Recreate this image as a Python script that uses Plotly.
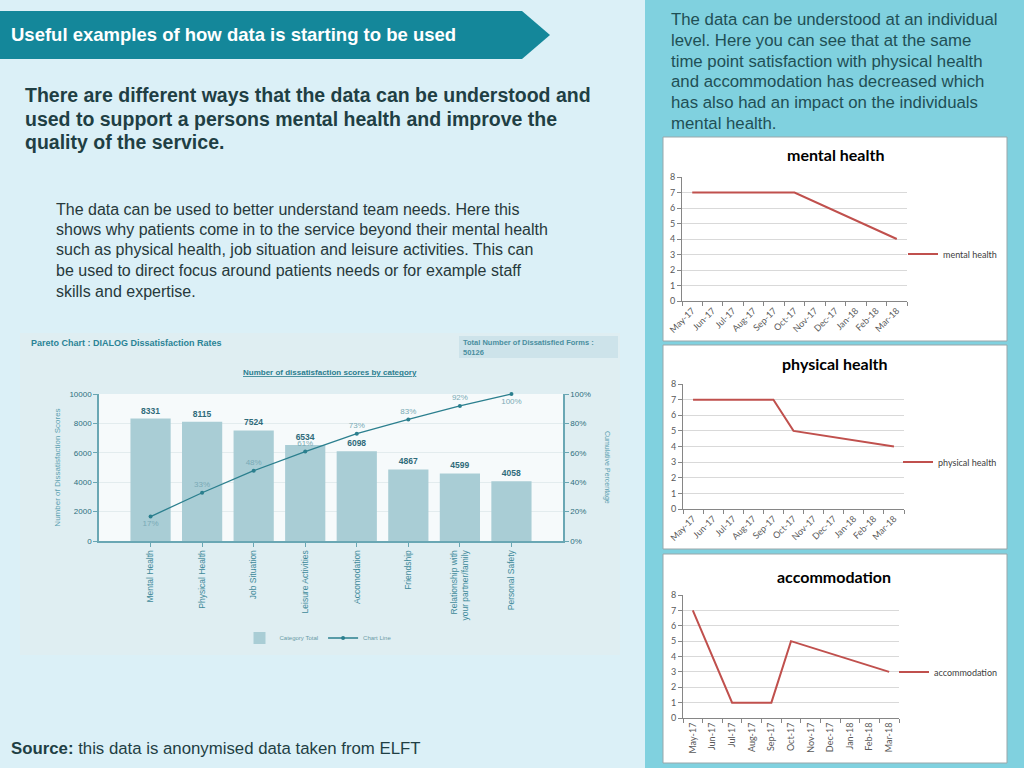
import numpy as np
import plotly.graph_objects as go

W, H = 1024, 768
def X(px): return px / W
def Y(py): return 1 - py / H

# ---------------- data ----------------
pareto_categories = ["Mental Health", "Physical Health", "Job Situation", "Leisure Activities",
                     "Accomodation", "Friendship", "Relationship with<br>your partner/family",
                     "Personal Safety"]
pareto_counts = [8331, 8115, 7524, 6534, 6098, 4867, 4599, 4058]
pareto_total = 50126

months = ["May-17", "Jun-17", "Jul-17", "Aug-17", "Sep-17", "Oct-17",
          "Nov-17", "Dec-17", "Jan-18", "Feb-18", "Mar-18"]
mental_health = [7, 7, 7, 7, 7, 7, None, None, None, None, 4]
physical_health = [7, 7, 7, 7, 7, 5, None, None, None, None, 4]
accommodation = [7, None, 1, 1, 1, 5, None, None, None, None, 3]

cum_pct = np.cumsum(pareto_counts) / pareto_total * 100
pct_labels = [f"{round(p)}%" for p in cum_pct]
pct_pos = ["bottom center"] + ["top center"] * 6 + ["bottom center"]

# ---------------- colours ----------------
LEFT_BG = "#dbf0f7"
RIGHT_BG = "#80d1df"
TEAL = "#14879a"
DARK = "#1f3f44"
RED = "#c0504d"
BAR = "#a9cdd5"
LINE = "#2b7f8e"

fig = go.Figure()

fig.add_trace(go.Bar(
    x=pareto_categories, y=pareto_counts, name="Category Total",
    marker=dict(color=BAR, line=dict(width=0)), width=0.78,
    text=[str(v) for v in pareto_counts], texttemplate="<b>%{text}</b>", textposition="outside",
    textfont=dict(family="Liberation Sans", size=8.5, color="#2f6b7a"),
    cliponaxis=False, xaxis="x", yaxis="y", legend="legend"))
fig.add_trace(go.Scatter(
    x=pareto_categories, y=cum_pct, name="Chart Line",
    mode="lines+markers+text", line=dict(color=LINE, width=1.3),
    marker=dict(size=4, color=LINE),
    text=pct_labels, textposition=pct_pos,
    textfont=dict(family="Liberation Sans", size=8, color="#79aab5"),
    cliponaxis=False, xaxis="x", yaxis="y2", legend="legend"))

small = [("mental health", mental_health, "x2", "y3", "legend2"),
         ("physical health", physical_health, "x3", "y4", "legend3"),
         ("accommodation", accommodation, "x4", "y5", "legend4")]
for name, vals, xa, ya, lg in small:
    fig.add_trace(go.Scatter(
        x=months, y=vals, name=name, mode="lines", connectgaps=True,
        line=dict(color=RED, width=2), xaxis=xa, yaxis=ya, legend=lg))

# ---------------- axes ----------------
ax_font = dict(family="Liberation Sans", size=8, color="#2e6e7e")
fig.update_layout(
    xaxis=dict(domain=[X(99), X(563)], range=[-1, 8], type="category", automargin=False,
               tickangle=-90, tickfont=dict(family="Liberation Sans", size=8.5, color="#3e8a9a"),
               showline=True, linecolor="#6aa7b4", linewidth=1.5,
               ticks="outside", ticklen=4, tickcolor="#6aa7b4",
               showgrid=False, anchor="y"),
    yaxis=dict(domain=[Y(541), Y(394)], range=[0, 10000], dtick=2000, tickformat="d",
               automargin=False,
               tickfont=ax_font, showline=True, linecolor="#6aa7b4", linewidth=1.5,
               ticks="outside", ticklen=4, tickcolor="#6aa7b4",
               gridcolor="#e3ecee", zeroline=False, anchor="x",
               title=dict(text="Number of Dissatisfaction Scores", standoff=8,
                          font=dict(family="Liberation Sans", size=8, color="#5aa0b0"))),
    yaxis2=dict(overlaying="y", side="right", range=[0, 100], dtick=20, ticksuffix="%",
                automargin=False,
                tickfont=ax_font, showline=True, linecolor="#6aa7b4", linewidth=1.5,
                ticks="outside", ticklen=4, tickcolor="#6aa7b4",
                showgrid=False, zeroline=False, anchor="x"),
)

small_domains = [([X(682), X(907)], [Y(301), Y(177)], -45),
                 ([X(683), X(904)], [Y(509), Y(384)], -45),
                 ([X(683), X(899)], [Y(718), Y(595)], -90)]
for i, (dx, dy, ang) in enumerate(small_domains):
    fig.update_layout(**{
        f"xaxis{i+2}": dict(domain=dx, type="category", range=[-0.5, 10.5], anchor=f"y{i+3}",
                            automargin=False, tickangle=ang,
                            tickfont=dict(family="Lato", size=9, color="#595959"),
                            showline=True, linecolor="#868686", linewidth=1,
                            ticks="outside", tickson="boundaries", ticklen=4, tickcolor="#868686",
                            showgrid=False),
        f"yaxis{i+3}": dict(domain=dy, range=[0, 8], dtick=1, anchor=f"x{i+2}", automargin=False,
                            tickfont=dict(family="Lato", size=9, color="#595959"),
                            showline=True, linecolor="#868686", linewidth=1,
                            ticks="outside", ticklen=4, tickcolor="#868686",
                            gridcolor="#d9d9d9", zeroline=False),
    })

# ---------------- legends ----------------
small_leg = dict(xanchor="left", yanchor="middle", font=dict(family="Lato", size=9, color="#404040"),
                 bgcolor="rgba(0,0,0,0)", itemwidth=30)
fig.update_layout(
    legend=dict(orientation="h", x=X(318), xanchor="center", y=Y(638), yanchor="middle",
                font=dict(family="Liberation Sans", size=6, color="#6a9aa5"),
                bgcolor="rgba(0,0,0,0)", itemwidth=30),
    legend2=dict(x=X(903), y=Y(254), **small_leg),
    legend3=dict(x=X(898), y=Y(462), **small_leg),
    legend4=dict(x=X(894), y=Y(672), **small_leg),
)

# ---------------- shapes ----------------
shapes = []
def rect(x0, y0, x1, y1, fill, line=None, lw=0):
    return dict(type="rect", xref="paper", yref="paper", x0=X(x0), x1=X(x1), y0=Y(y1), y1=Y(y0),
                fillcolor=fill, line=dict(color=line or fill, width=lw), layer="below")
shapes.append(rect(645, -2, 1026, 770, RIGHT_BG))
shapes.append(rect(663, 137, 1007, 341, "white", "#9aa7aa", 1))
shapes.append(rect(663, 345, 1007, 549, "white", "#9aa7aa", 1))
shapes.append(rect(663, 554, 1007, 763, "white", "#9aa7aa", 1))
shapes.append(rect(20, 333, 620, 655, "#dfeef2"))
shapes.append(rect(459, 336, 618, 358, "#cde3ea"))
shapes.append(rect(99, 394, 563, 541, "#f6fafb"))
pts = [(-5, 11), (522, 11), (550, 35), (522, 59), (-5, 59)]
path = "M " + " L ".join(f"{X(a):.5f},{Y(b):.5f}" for a, b in pts) + " Z"
shapes.append(dict(type="path", xref="paper", yref="paper", path=path,
                   fillcolor=TEAL, line=dict(width=0), layer="below"))

# ---------------- annotations ----------------
ann = []
def text(x, y, t, size, color, family="Liberation Sans", xanchor="left", yanchor="middle", **kw):
    ann.append(dict(x=X(x), y=Y(y), xref="paper", yref="paper", text=t, showarrow=False,
                    xanchor=xanchor, yanchor=yanchor, align="left",
                    font=dict(family=family, size=size, color=color), **kw))

def para(x, y0, dy, lines, size, color, bold=False):
    for k, ln in enumerate(lines):
        text(x, y0 + k * dy, f"<b>{ln}</b>" if bold else ln, size, color)

text(9, 35, "<b>Useful examples of how data is starting to be used</b>", 18.5, "white")
para(23, 95, 23.5, ["There are different ways that the data can be understood and",
                    "used to support a persons mental health and improve the",
                    "quality of the service."], 19.5, DARK, bold=True)
para(54, 209, 20.5, ["The data can be used to better understand team needs. Here this",
                     "shows why patients come in to the service beyond their mental health",
                     "such as physical health, job situation and leisure activities. This can",
                     "be used to direct focus around patients needs or for example staff",
                     "skills and expertise."], 16, "#27393b")
para(669, 20, 20.6, ["The data can be understood at an individual",
                     "level. Here you can see that at the same",
                     "time point satisfaction with physical health",
                     "and accommodation has decreased which",
                     "has also had an impact on the individuals",
                     "mental health."], 16.8, "#1f4f55")
text(9, 748, "<b>Source:</b> this data is anonymised data taken from ELFT", 16.8, DARK)

text(29, 343, "<b>Pareto Chart : DIALOG Dissatisfaction Rates</b>", 9, "#2a8396")
text(461, 347, "<b>Total Number of Dissatisfied Forms :<br>50126</b>", 7.5, "#4a8fa0")
text(330, 373, "<b><u>Number of dissatisfaction scores by category</u></b>", 8, "#2a7d8e",
     xanchor="center")
text(607, 467, "Cumulative Percentage", 7, "#5aa0b0", xanchor="center", textangle=90)

text(835, 155, "<b>mental health</b>", 16, "black", family="Lato", xanchor="center")
text(835, 363, "<b>physical health</b>", 16, "black", family="Lato", xanchor="center")
text(834, 576, "<b>accommodation</b>", 16, "black", family="Lato", xanchor="center")

fig.update_layout(width=W, height=H, margin=dict(l=0, r=0, t=0, b=0, pad=0),
                  paper_bgcolor=LEFT_BG, plot_bgcolor="rgba(0,0,0,0)",
                  shapes=shapes, annotations=ann, showlegend=True)

fig.write_html("out.html", config={"displayModeBar": False},
               post_script="document.body.style.margin='0px';"
                           "document.body.style.overflow='hidden';")
